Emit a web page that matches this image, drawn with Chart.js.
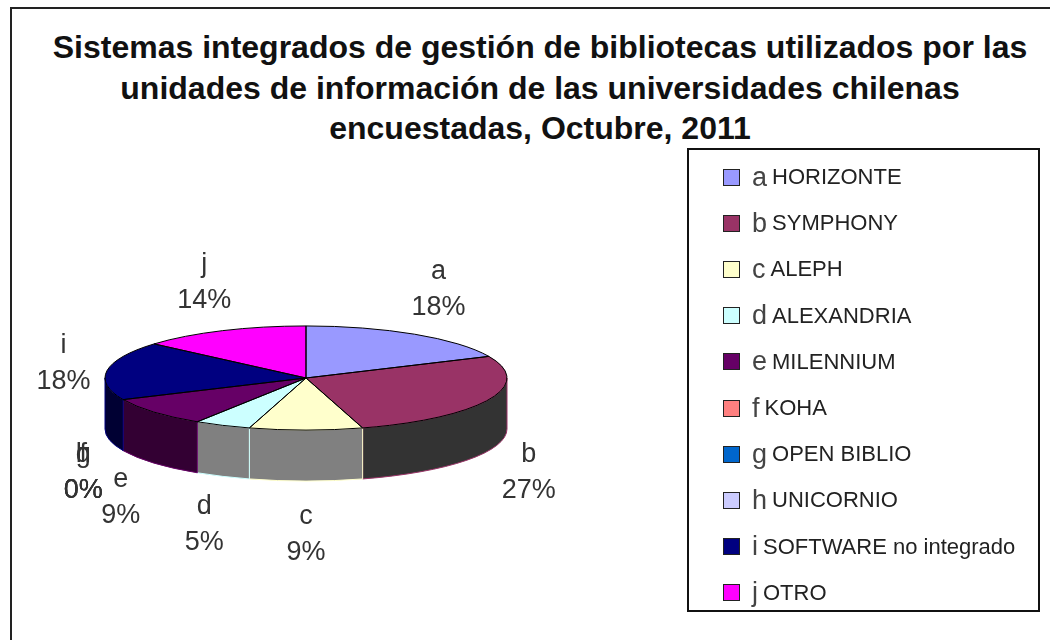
<!DOCTYPE html>
<html>
<head>
<meta charset="utf-8">
<script src="https://cdn.jsdelivr.net/npm/chart.js@4"></script>
<style>
  html,body{margin:0;padding:0;background:#fff;}
  body{width:1050px;height:640px;position:relative;overflow:hidden;font-family:"Liberation Sans",Arial,sans-serif;}
  #frame{position:absolute;left:10px;top:7px;width:1100px;height:700px;border-left:2px solid #222;border-top:2px solid #222;}
  #title{position:absolute;left:0;top:27px;width:1080px;text-align:center;font-weight:bold;font-size:32px;line-height:40.5px;color:#111;}
  #wrap{position:absolute;left:0;top:0;width:1050px;height:640px;}
  #legend{position:absolute;left:687px;top:148px;width:353px;height:464px;box-sizing:border-box;border:2px solid #111;padding-top:4px;}
  #legend .row{height:46.2px;display:flex;align-items:center;white-space:nowrap;}
  #legend .sw{width:15px;height:15px;border:1px solid #222;margin-left:34px;margin-right:12px;}
  #legend .lt{font-size:27px;color:#444;margin-right:5px;}
  #legend .nm{font-size:22px;color:#222;}
</style>
</head>
<body>
<div id="frame"></div>
<div id="title">Sistemas integrados de gestión de bibliotecas utilizados por las<br>unidades de información de las universidades chilenas<br>encuestadas, Octubre, 2011</div>
<div id="wrap"><canvas id="pieChart" width="1050" height="640"></canvas></div>
<div id="legend"></div>
<script>
// DATA
const letters=['a','b','c','d','e','f','g','h','i','j'];
const names=['HORIZONTE','SYMPHONY','ALEPH','ALEXANDRIA','MILENNIUM','KOHA','OPEN BIBLIO','UNICORNIO','SOFTWARE no integrado','OTRO'];
const counts=[4,6,2,1,2,0,0,0,4,3];

// STYLES
const topColors=['#9999FF','#993366','#FFFFCC','#CCFFFF','#660066','#FF8080','#0066CC','#CCCCFF','#000080','#FF00FF'];
const sideColors=['#4d4d80','#333333','#808080','#808080','#330033','#804040','#003366','#808080','#000033','#800080'];
const squash=0.259, depth=51;
const total=counts.reduce((a,b)=>a+b,0);

// LEGEND
const legend=document.getElementById('legend');
letters.forEach((l,i)=>{
  const row=document.createElement('div');
  row.className='row';
  row.innerHTML='<span class="sw" style="background:'+topColors[i]+'"></span><span class="lt">'+l+'</span><span class="nm">'+names[i]+'</span>';
  legend.appendChild(row);
});

// 3D PIE PLUGIN
const pie3d={
  id:'pie3d',
  beforeDatasetsDraw(chart){
    const ctx=chart.ctx;
    const arcs=chart.getDatasetMeta(0).data;
    ctx.save();
    // side walls, front half only (0..PI)
    arcs.forEach((arc,i)=>{
      const p=arc.getProps(['x','y','startAngle','endAngle','outerRadius'],true);
      const a0=Math.max(p.startAngle,0), a1=Math.min(p.endAngle,Math.PI);
      if(a1-a0<=0.0001)return;
      const r=p.outerRadius, ry=r*squash;
      ctx.beginPath();
      ctx.ellipse(p.x,p.y,r,ry,0,a0,a1);
      ctx.lineTo(p.x+r*Math.cos(a1),p.y+depth+ry*Math.sin(a1));
      ctx.ellipse(p.x,p.y+depth,r,ry,0,a1,a0,true);
      ctx.closePath();
      ctx.fillStyle=sideColors[i];
      ctx.fill();
      ctx.lineWidth=1;
      ctx.strokeStyle=topColors[i];
      ctx.stroke();
    });
    // squash the top face
    const c=arcs[0];
    ctx.translate(c.x,c.y);
    ctx.scale(1,squash);
    ctx.translate(-c.x,-c.y);
  },
  afterDatasetsDraw(chart){
    const ctx=chart.ctx;
    ctx.restore();
    const arcs=chart.getDatasetMeta(0).data;
    ctx.save();
    // slice outlines on the top face
    arcs.forEach((arc,i)=>{
      if(counts[i]===0)return;
      const p=arc.getProps(['x','y','startAngle','endAngle','outerRadius'],true);
      const r=p.outerRadius, ry=r*squash;
      ctx.beginPath();
      ctx.moveTo(p.x,p.y);
      ctx.lineTo(p.x+r*Math.cos(p.startAngle),p.y+ry*Math.sin(p.startAngle));
      ctx.ellipse(p.x,p.y,r,ry,0,p.startAngle,p.endAngle);
      ctx.closePath();
      ctx.lineWidth=1;
      ctx.strokeStyle='#000';
      ctx.stroke();
    });
    // data labels
    ctx.font='27px "Liberation Sans", Arial, sans-serif';
    ctx.fillStyle='#333';
    ctx.textAlign='center';
    ctx.textBaseline='middle';
    arcs.forEach((arc,i)=>{
      const p=arc.getProps(['x','y','startAngle','endAngle','outerRadius'],true);
      const m=(p.startAngle+p.endAngle)/2;
      const lrx=p.outerRadius+44, lry=p.outerRadius*squash+53;
      const lx=p.x+lrx*Math.cos(m);
      let ly=p.y+lry*Math.sin(m);
      if(Math.sin(m)>0)ly+=depth;
      ctx.fillText(letters[i],lx,ly-18);
      ctx.fillText(Math.round(counts[i]/total*100)+'%',lx,ly+18);
    });
    ctx.restore();
  }
};

// CHART
const ctx=document.getElementById('pieChart').getContext('2d');
new Chart(ctx,{
  type:'pie',
  data:{labels:letters.map((l,i)=>l+' '+names[i]),datasets:[{data:counts,backgroundColor:topColors,borderWidth:0}]},
  options:{
    responsive:false,
    animation:false,
    events:[],
    layout:{padding:{left:105,right:543,top:177,bottom:61}},
    plugins:{legend:{display:false},title:{display:false},tooltip:{enabled:false}}
  },
  plugins:[pie3d]
});
</script>
</body>
</html>
